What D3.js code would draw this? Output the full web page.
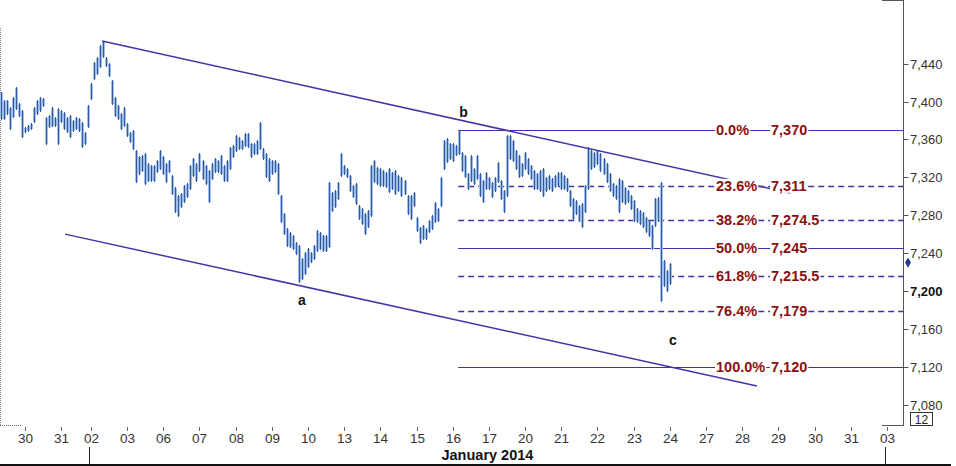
<!DOCTYPE html>
<html><head><meta charset="utf-8">
<script src="https://cdn.jsdelivr.net/npm/d3@7/dist/d3.min.js"></script>
<style>
body{margin:0;background:#fff;}
svg{display:block;font-family:"Liberation Sans",Arial,sans-serif;}
</style>
</head><body>
<svg id="c" width="956" height="466"></svg>
<script>
// ---------------- DATA ----------------
const dayLabels = ["30","31","02","03","06","07","08","09","10","13","14","15","16","17","20","21","22","23","24","27","28","29","30","31","03"];
const dayBarCounts = [12,10,12,12,12,12,12,12,12,12,12,12,12,12,12,12,12,12,12,12,12,12,12,12,12];
const leadBars = 8; // bars of 27 Dec shown before the first label
const monthLabel = "January 2014";

const barHigh = [7410,7402,7402,7394,7405,7415,7399,7391,7373,7375,7377,7394,7402,7405,7404,7384,7386,7394,7384,7393,
7391,7389,7384,7386,7381,7384,7383,7378,7368,7396,7420,7442,7447,7460,7464,7447,7441,7423,7405,7396,
7388,7394,7377,7368,7370,7349,7342,7344,7346,7335,7333,7333,7338,7349,7342,7335,7338,7322,7310,7301,
7303,7312,7314,7333,7340,7335,7346,7338,7333,7328,7335,7340,7338,7344,7333,7338,7352,7354,7365,7363,
7359,7367,7367,7356,7356,7359,7378,7351,7346,7340,7338,7338,7335,7301,7282,7267,7262,7259,7252,7249,
7235,7241,7245,7241,7249,7264,7262,7259,7259,7315,7305,7307,7315,7346,7333,7330,7322,7312,7314,7291,
7288,7282,7286,7333,7338,7331,7330,7328,7326,7330,7326,7328,7322,7320,7317,7301,7301,7305,7278,7268,
7270,7267,7275,7280,7294,7288,7320,7359,7362,7356,7356,7354,7370,7347,7344,7325,7344,7330,7344,7325,
7317,7326,7320,7315,7320,7336,7317,7307,7365,7365,7359,7349,7344,7335,7347,7340,7333,7328,7325,7328,
7330,7320,7322,7319,7322,7326,7326,7322,7319,7307,7298,7296,7291,7293,7312,7352,7349,7347,7349,7346,
7340,7335,7325,7314,7312,7319,7317,7310,7307,7301,7296,7288,7286,7283,7278,7275,7270,7298,7299,7315,
7233,7222,7230];
const barLow = [7381,7381,7386,7370,7383,7391,7384,7362,7367,7368,7370,7377,7386,7389,7394,7354,7372,7373,7373,7354,
7377,7370,7367,7362,7368,7370,7368,7351,7354,7372,7402,7423,7428,7436,7446,7437,7426,7396,7384,7381,
7370,7373,7363,7356,7349,7314,7322,7326,7312,7315,7315,7315,7325,7328,7322,7314,7325,7301,7282,7278,
7288,7293,7298,7307,7320,7315,7326,7317,7312,7293,7317,7325,7325,7322,7315,7315,7328,7340,7347,7349,
7349,7352,7351,7340,7344,7344,7349,7338,7319,7315,7322,7325,7301,7272,7259,7246,7245,7243,7238,7208,
7212,7217,7224,7230,7233,7241,7243,7241,7241,7245,7283,7288,7296,7320,7322,7319,7305,7298,7291,7275,
7270,7259,7267,7278,7314,7312,7310,7310,7309,7303,7307,7301,7305,7299,7301,7280,7275,7289,7262,7250,
7254,7254,7261,7264,7272,7273,7289,7328,7335,7338,7336,7342,7344,7326,7319,7307,7315,7312,7317,7299,
7293,7307,7307,7298,7305,7314,7296,7282,7299,7338,7336,7328,7319,7320,7328,7322,7317,7307,7307,7305,
7299,7305,7307,7305,7309,7310,7307,7307,7305,7289,7275,7280,7273,7267,7282,7307,7328,7330,7333,7326,
7322,7314,7305,7299,7296,7282,7293,7291,7293,7286,7273,7272,7270,7267,7261,7257,7243,7268,7273,7188,
7204,7199,7206];

const yTicks = [7080,7120,7160,7200,7240,7280,7320,7360,7400,7440];
const yTickLabels = ["7,080","7,120","7,160","7,200","7,240","7,280","7,320","7,360","7,400","7,440"];
const yTickBold = [false,false,false,true,false,false,false,false,false,false];

const fibPct = ["0.0%","23.6%","38.2%","50.0%","61.8%","76.4%","100.0%"];
const fibVal = [7370,7311,7274.5,7245,7215.5,7179,7120];
const fibValLabel = ["7,370","7,311","7,274.5","7,245","7,215.5","7,179","7,120"];
const fibDashed = [false,true,true,false,true,true,false];
const fibStartBar = 151.8;

// channel lines: [bar index, price]
const channelUpper = [[33.7,7464],[261.9,7303.4]];
const channelLower = [[21.4,7260],[250.9,7099.6]];

const waveLabels = ["a","b","c"];
const waveBar = [100,153.6,223];
const wavePrice = [7190,7389,7148];

const lastPrice = 7230;
const panelLabel = "12";

// ---------------- LAYOUT ----------------
const svg = d3.select("#c");
const axisX = 903.5, plotBottom = 425;
const x = d3.scaleLinear().domain([0, 100]).range([0.5, 0.5 + 301.5]);
const y = d3.scaleLinear().domain([7058.4, 7507.3]).range([plotBottom, 0]);
const crisp = v => Math.round(v) + 0.5;
const lineCol = "#4434a8";
const fibCol = "#3d32a8";
const labelRed = "#8a1010";
const axisText = "#333";

// day starts
const dayStart = [];
{ let s = leadBars; dayBarCounts.forEach(c => { dayStart.push(s); s += c; }); }

// frame pieces
svg.append("line").attr("x1",0.5).attr("x2",0.5).attr("y1",28).attr("y2",plotBottom)
  .attr("stroke","#8a8a8a").attr("stroke-dasharray","1,1");
svg.append("line").attr("x1",0).attr("x2",21).attr("y1",plotBottom+0.5).attr("y2",plotBottom+0.5)
  .attr("stroke","#6a6a6a").attr("stroke-dasharray","1,1");
svg.append("line").attr("x1",axisX).attr("x2",axisX).attr("y1",0).attr("y2",plotBottom+1)
  .attr("stroke","#555");
svg.append("line").attr("x1",882).attr("x2",axisX).attr("y1",0.5).attr("y2",0.5).attr("stroke","#555");
svg.append("line").attr("x1",882).attr("x2",axisX).attr("y1",plotBottom+0.5).attr("y2",plotBottom+0.5).attr("stroke","#555");

// fib lines
const fibG = svg.append("g");
fibVal.forEach((v,k) => {
  fibG.append("line")
    .attr("x1", x(fibStartBar)).attr("x2", axisX)
    .attr("y1", crisp(y(v))).attr("y2", crisp(y(v)))
    .attr("stroke", fibCol).attr("stroke-width", fibDashed[k] ? 1.5 : 1.2)
    .attr("stroke-dasharray", fibDashed[k] ? "6,4" : null);
});

// bars (OHLC-like: light side ticks, dark stem)
const barG = svg.append("g").attr("shape-rendering","crispEdges");
barHigh.forEach((h,i) => {
  const bx = Math.round(x(i));
  const y1 = Math.round(y(h)), y2 = Math.round(y(barLow[i]));
  const hh = Math.max(1, y2 - y1);
  barG.append("rect").attr("x", bx-1).attr("y", y1+1).attr("width", 3).attr("height", Math.max(1,hh-2))
    .attr("fill", "#9dc0e8");
  barG.append("rect").attr("x", bx).attr("y", y1).attr("width", 1).attr("height", hh)
    .attr("fill", "#3a58a0");
});

// channel lines
[channelUpper, channelLower].forEach(c => {
  svg.append("line")
    .attr("x1", x(c[0][0])).attr("y1", y(c[0][1]))
    .attr("x2", x(c[1][0])).attr("y2", y(c[1][1]))
    .attr("stroke", lineCol).attr("stroke-width", 1.5);
});

// fib labels with white boxes
const labG = svg.append("g").style("font-weight","bold").style("font-size","14.5px").attr("fill", labelRed);
fibVal.forEach((v,k) => {
  const yy = y(v);
  [[716, fibPct[k]], [771, fibValLabel[k]]].forEach(([lx, txt]) => {
    const t = labG.append("text").attr("x", lx).attr("y", yy + 5).text(txt);
    const bb = t.node().getBBox();
    labG.insert("rect", () => t.node()).attr("x", bb.x - 1).attr("y", yy - 7)
      .attr("width", bb.width + 2).attr("height", 14).attr("fill", "#fff");
  });
});

// wave labels
waveLabels.forEach((t,k) => {
  svg.append("text").attr("x", x(waveBar[k])).attr("y", y(wavePrice[k]) + 5)
    .attr("text-anchor","middle").style("font-weight","bold").style("font-size","14px")
    .attr("fill","#111").text(t);
});

// right axis
const yAx = svg.append("g");
yTicks.forEach((v,k) => {
  const yy = crisp(y(v));
  yAx.append("line").attr("x1", axisX).attr("x2", axisX+5).attr("y1", yy).attr("y2", yy).attr("stroke","#555");
  yAx.append("text").attr("x", 910).attr("y", yy + 4.5).text(yTickLabels[k])
    .style("font-size","13px").style("font-weight", yTickBold[k] ? "bold" : "normal")
    .attr("fill", yTickBold[k] ? "#111" : axisText);
});
// last price marker
svg.append("path").attr("d", d3.symbol(d3.symbolDiamond, 30)())
  .attr("transform", `translate(908,${y(lastPrice)})`).attr("fill","#1f3a8c");
// panel box
svg.append("rect").attr("x",910.5).attr("y",412.5).attr("width",22).attr("height",13)
  .attr("fill","#fff").attr("stroke","#333");
svg.append("text").attr("x",921.5).attr("y",423.5).attr("text-anchor","middle")
  .style("font-size","12px").attr("fill","#222").text(panelLabel);

// bottom axis
const xAx = svg.append("g");
dayLabels.forEach((lab,k) => {
  const tx = crisp(x(dayStart[k]));
  xAx.append("line").attr("x1", tx).attr("x2", tx).attr("y1", 427).attr("y2", 431).attr("stroke","#666");
  xAx.append("text").attr("x", tx).attr("y", 442.5).attr("text-anchor","middle")
    .style("font-size","13.5px").attr("fill", axisText).text(lab);
});
// separators and month label
const sepL = x(dayStart[2] - 0.5), sepR = x(dayStart[24] - 0.5);
[sepL, sepR].forEach(sx => {
  svg.append("line").attr("x1", crisp(sx)).attr("x2", crisp(sx)).attr("y1", 447).attr("y2", 465).attr("stroke","#222");
});
svg.append("line").attr("x1",0).attr("x2",951).attr("y1",465).attr("y2",465).attr("stroke","#111").attr("stroke-width",2);
svg.append("text").attr("x", (sepL+sepR)/2).attr("y", 460).attr("text-anchor","middle")
  .style("font-weight","bold").style("font-size","14.5px").attr("fill","#111").text(monthLabel);
</script>
</body></html>
